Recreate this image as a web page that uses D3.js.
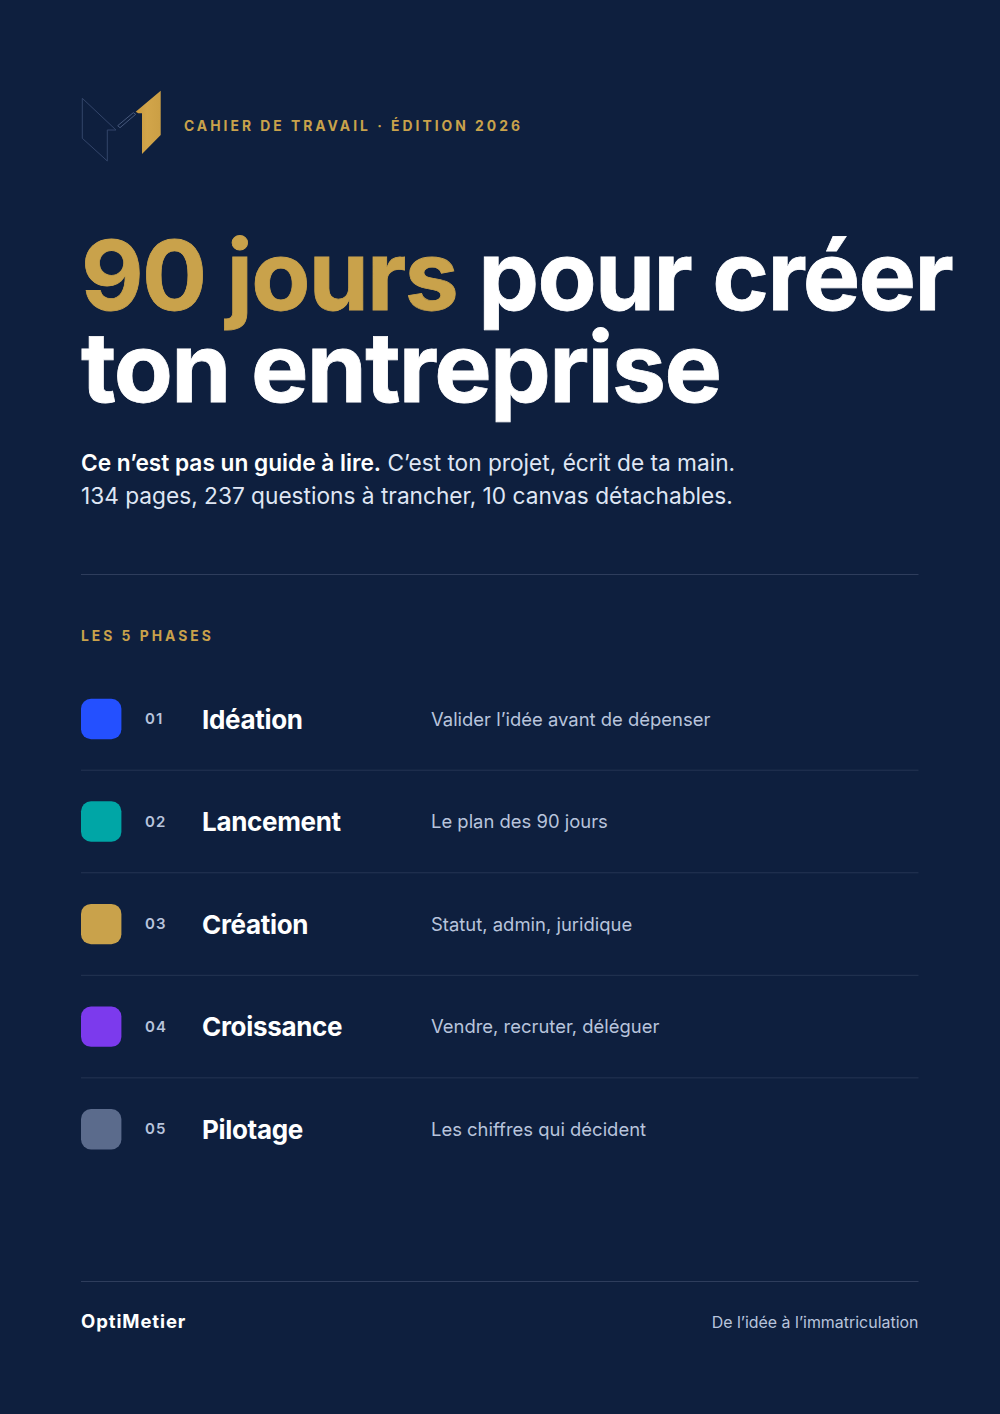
<!DOCTYPE html>
<html><head><meta charset="utf-8">
<script src="https://cdn.jsdelivr.net/npm/d3@7"></script>
<style>html,body{margin:0;padding:0;background:#0e1f3e}svg{display:block}text{font-family:Inter,sans-serif}</style>
</head><body><svg id="c" width="1000" height="1414"></svg>
<script>
const phaseNumbers=["01","02","03","04","05"];
const phaseNames=["Idéation","Lancement","Création","Croissance","Pilotage"];
const phaseDescriptions=["Valider l’idée avant de dépenser","Le plan des 90 jours","Statut, admin, juridique","Vendre, recruter, déléguer","Les chiffres qui décident"];
const phaseColors=["#2450ff","#00a6a6","#c9a24b","#7c3aed","#5b6b8c"];

const navy="#0e1f3e",gold="#c9a24b",rule="#2e3d5c";
const svg=d3.select("#c");
svg.append("rect").attr("width",1000).attr("height",1414).attr("fill",navy);

const grad=svg.append("defs").append("linearGradient").attr("id","gold").attr("x1",0).attr("x2",1).attr("y1",0).attr("y2",0);
grad.append("stop").attr("offset",0).attr("stop-color","#c8993f");
grad.append("stop").attr("offset",0.45).attr("stop-color","#d2a54a");
grad.append("stop").attr("offset",1).attr("stop-color","#cb9f45");

function txt(parent,x,y,s,size,weight,fill,ls,anchor){
  return parent.append("text").attr("x",x).attr("y",y).text(s)
    .attr("font-size",size).attr("font-weight",weight).attr("fill",fill)
    .attr("letter-spacing",ls||0).attr("text-anchor",anchor||"start");
}
function hr(y,c){svg.append("line").attr("x1",81).attr("x2",918.5).attr("y1",y).attr("y2",y).attr("stroke",c||rule).attr("stroke-width",1);}

// Logo
const logo=svg.append("g");
logo.append("path").attr("d","M82.3 98.3L116 130L107.3 130L107.3 161L82.3 138.3Z")
  .attr("fill","none").attr("stroke","#33456a").attr("stroke-width",1);
logo.append("path").attr("d","M117.7 125.7L133.3 112.7L135.7 114.3L120 127.7Z")
  .attr("fill","none").attr("stroke","#46587c").attr("stroke-width",1);
logo.append("path").attr("d","M135.7 111.7L160.7 90.7L160.7 135L142 154L142 113.3L138.3 113.3Z").attr("fill","url(#gold)");

txt(svg,184,131,"CAHIER DE TRAVAIL · ÉDITION 2026",13.86,700,gold,3);

// Title
const t1=txt(svg,81,310,"90 jours",96.5,700,gold,-1.65).attr("stroke",gold).attr("stroke-width",0.8);
t1.append("tspan").attr("fill","#ffffff").attr("stroke","#ffffff").text(" pour créer");
txt(svg,81,402,"ton entreprise",96.5,700,"#ffffff",-1.65).attr("stroke","#ffffff").attr("stroke-width",0.8);

// Intro
const p1=txt(svg,81,471,"Ce n’est pas un guide à lire.",22.68,600,"#ffffff");
p1.append("tspan").attr("font-weight",400).attr("fill","#dfe6f4").text(" C’est ton projet, écrit de ta main.");
txt(svg,81,504,"134 pages, 237 questions à trancher, 10 canvas détachables.",22.68,400,"#dfe6f4");

hr(574.5);
txt(svg,81,641,"LES 5 PHASES",13.86,700,gold,3);

// Phases
const y=d3.scalePoint().domain(phaseNumbers).range([719,1129.2]);
const rows=svg.selectAll("g.row").data(phaseNumbers).join("g").attr("class","row")
  .attr("transform",d=>`translate(0,${y(d)})`);
rows.append("rect").attr("x",81).attr("y",-20.2).attr("width",40.4).attr("height",40.4).attr("rx",10)
  .attr("fill",(d,i)=>phaseColors[i]);
rows.append("text").attr("x",145).attr("y",5.2).text(d=>d)
  .attr("font-size",15).attr("font-weight",600).attr("fill","#b8c4dc").attr("letter-spacing",1);
rows.append("text").attr("x",202).attr("y",9.5).text((d,i)=>phaseNames[i])
  .attr("font-size",26).attr("font-weight",700).attr("fill","#ffffff").attr("letter-spacing",-0.32);
rows.append("text").attr("x",431).attr("y",6.6).text((d,i)=>phaseDescriptions[i])
  .attr("font-size",18.45).attr("font-weight",400).attr("fill","#b8c4dc");
phaseNumbers.slice(0,-1).forEach(d=>hr(y(d)+51.2,"#253553"));

// Footer
hr(1281.5);
txt(svg,81,1328,"OptiMetier",18.5,700,"#ffffff",0.9);
txt(svg,918.5,1328,"De l’idée à l’immatriculation",15.95,400,"#b8c4dc",0,"end");
</script></body></html>
